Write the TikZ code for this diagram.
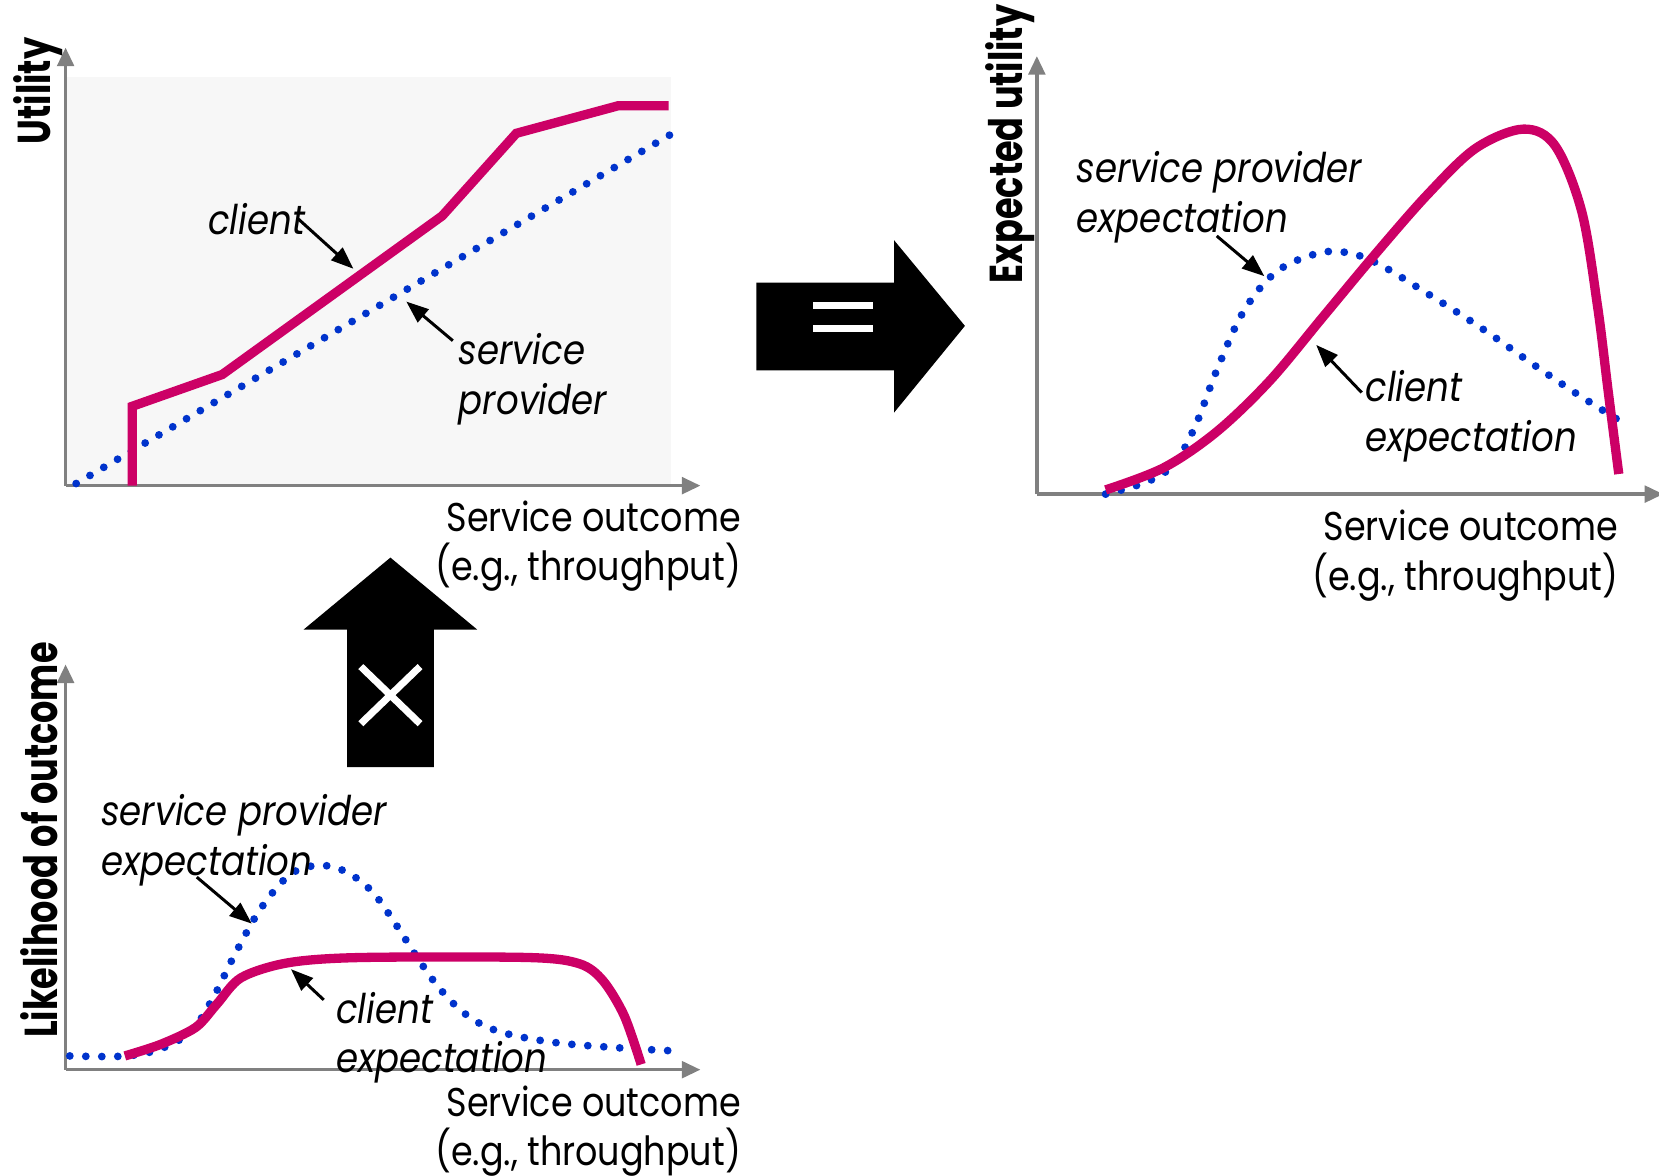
\documentclass[tikz,border=0pt]{standalone}
\usepackage{fontspec}
\setmainfont{Poppins}[FakeStretch=0.87,BoldFeatures={FakeStretch=0.76}]
\usetikzlibrary{arrows.meta}
\definecolor{curvemag}{RGB}{204,0,102}
\definecolor{dotblue}{RGB}{0,51,204}
\definecolor{axisgray}{RGB}{128,128,128}
\definecolor{panelbg}{RGB}{247,247,247}
\begin{document}
\begin{tikzpicture}[x=0.01cm,y=-0.01cm,
  axis/.style={draw=axisgray,line width=0.9pt,-{Triangle[length=5pt,width=4.5pt]}},
  clientcurve/.style={draw=curvemag,line width=2.5pt},
  providercurve/.style={draw=dotblue,line width=2.1pt,line cap=round,dash pattern=on 0pt off 4.3pt},
  pointer/.style={draw=black,line width=0.8pt,-{Triangle[length=6pt,width=4.5pt]}},
  lbl/.style={font=\fontsize{11}{13.4}\selectfont\itshape,align=left,inner sep=0pt},
  outcome/.style={font=\fontsize{10.8}{13.4}\selectfont,align=right,inner sep=0pt},
  axlabel/.style={font=\fontsize{12.4}{13}\selectfont\bfseries,rotate=90,inner sep=0pt},
  bigarrow/.style={fill=black},
  glyph/.style={draw=white,line width=1.9pt}]
\useasboundingbox (0,0) rectangle (1568,1111);

% ---------- utility panel ----------
\fill[panelbg] (62,73) rectangle (634,459);
\coordinate (uo) at (62,459);
\draw[axis] (uo) -- (62,45);
\draw[axis] (uo) -- (662,459);
\node[axlabel] (ulab) at (36,86) {Utility};
\draw[providercurve] (72,457) -- (634,127);
\draw[clientcurve] (125,459) -- (125,384) -- (210,354) -- (418,204) -- (488,126) -- (584,100) -- (632,100);
\node[lbl,anchor=base west] (uclient) at (196,222) {client};
\coordinate (uclientfrom) at (282,207);
\coordinate (uclientpt) at (334,254);
\draw[pointer] (uclientfrom) -- (uclientpt);
\node[lbl,anchor=base west] (uprov) at (433,392) {service\\provider};
\coordinate (uprovfrom) at (428,322);
\coordinate (uprovpt) at (384,285);
\draw[pointer] (uprovfrom) -- (uprovpt);
\node[outcome,anchor=base east] (uout) at (701,549) {Service outcome\\(e.g., throughput)};

% ---------- multiply arrow ----------
\fill[bigarrow] (328,725) -- (328,595) -- (287,595) -- (369,527) -- (451,595) -- (410,595) -- (410,725) -- cycle;
\draw[glyph] (341,630) -- (397,684) (397,630) -- (341,684);

% ---------- equals arrow ----------
\fill[bigarrow] (715,267) -- (845,267) -- (845,227) -- (912,308) -- (845,390) -- (845,350) -- (715,350) -- cycle;
\fill[white] (768,285) rectangle (825,292);
\fill[white] (768,307) rectangle (825,314);

% ---------- likelihood panel ----------
\coordinate (lo) at (62,1011);
\draw[axis] (lo) -- (62,628);
\draw[axis] (lo) -- (662,1011);
\node[axlabel] (llab) at (37,794) {Likelihood of outcome};
\draw[providercurve] plot[smooth,tension=0.6] coordinates {(66,998) (120,998) (155,990) (182,973) (202,942) (222,902) (247,858) (275,826) (302,818) (327,824) (352,843) (375,875) (395,906) (417,936) (442,960) (472,975) (522,985) (580,990) (632,993)};
\draw[clientcurve] plot[smooth,tension=0.5] coordinates {(118,998) (152,987) (185,971) (205,949) (228,924) (272,910) (340,905) (500,905) (548,911) (570,927) (590,960) (606,1006)};
\node[lbl,anchor=base west] (lprov) at (95,827) {service provider\\expectation};
\coordinate (lprovfrom) at (186,829);
\coordinate (lprovpt) at (238,873);
\draw[pointer] (lprovfrom) -- (lprovpt);
\node[lbl,anchor=base west] (lclient) at (317,1014) {client\\expectation};
\coordinate (lclientfrom) at (306,945);
\coordinate (lclientpt) at (275,916);
\draw[pointer] (lclientfrom) -- (lclientpt);
\node[outcome,anchor=base east] (lout) at (701,1102) {Service outcome\\(e.g., throughput)};

% ---------- expected utility panel ----------
\coordinate (eo) at (980,467);
\draw[axis] (eo) -- (980,53);
\draw[axis] (eo) -- (1572,467);
\node[axlabel] (elab) at (955,136) {Expected utility};
\draw[providercurve] plot[smooth,tension=0.6] coordinates {(1045,467) (1085,455) (1110,438) (1130,402) (1150,350) (1175,295) (1205,258) (1240,241) (1268,238) (1300,248) (1350,278) (1400,310) (1450,345) (1490,372) (1536,401)};
\draw[clientcurve] plot[smooth,tension=0.55] coordinates {(1045,463) (1100,442) (1150,408) (1200,360) (1250,300) (1300,240) (1350,183) (1395,140) (1440,122) (1470,138) (1495,200) (1510,290) (1520,370) (1530,448)};
\node[lbl,anchor=base west] (eprov) at (1017,220) {service provider\\expectation};
\coordinate (eprovfrom) at (1150,223);
\coordinate (eprovpt) at (1195,261);
\draw[pointer] (eprovfrom) -- (eprovpt);
\node[lbl,anchor=base west] (eclient) at (1290,427) {client\\expectation};
\coordinate (eclientfrom) at (1287,371);
\coordinate (eclientpt) at (1244,326);
\draw[pointer] (eclientfrom) -- (eclientpt);
\node[outcome,anchor=base east] (eout) at (1530,558) {Service outcome\\(e.g., throughput)};
\end{tikzpicture}
\end{document}
